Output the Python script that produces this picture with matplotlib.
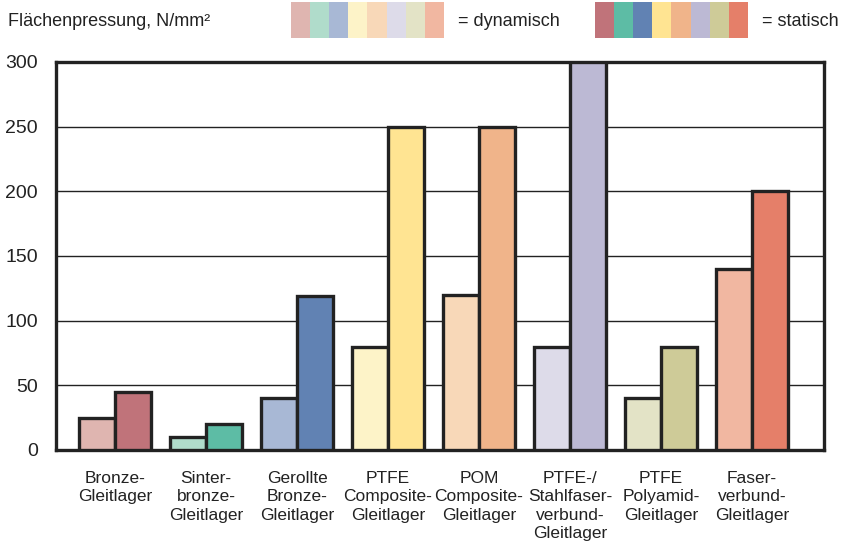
import numpy as np
import matplotlib
matplotlib.use("Agg")
import matplotlib.pyplot as plt
from matplotlib.patches import Rectangle

plt.rcParams['font.family'] = ['Liberation Sans', 'DejaVu Sans']

labels = [
    "Bronze-\nGleitlager",
    "Sinter-\nbronze-\nGleitlager",
    "Gerollte\nBronze-\nGleitlager",
    "PTFE\nComposite-\nGleitlager",
    "POM\nComposite-\nGleitlager",
    "PTFE-/\nStahlfaser-\nverbund-\nGleitlager",
    "PTFE\nPolyamid-\nGleitlager",
    "Faser-\nverbund-\nGleitlager",
]
dynamisch = [25, 10, 40, 80, 120, 80, 40, 140]
statisch = [45, 20, 119, 250, 250, 300, 80, 200]

dyn_colors = ["#DFB5B0", "#B0DCCB", "#A8B8D5", "#FDF3C8",
              "#F8D8B8", "#DDDBE9", "#E3E3C6", "#F1B7A1"]
stat_colors = ["#C0737A", "#5DBCA5", "#6182B3", "#FFE492",
               "#F0B48A", "#BCB9D4", "#CECB98", "#E57F69"]

ink = "#222222"

fig = plt.figure(figsize=(8.43, 5.42), dpi=100)
ax = fig.add_axes([56 / 843, 1 - 450 / 542, 768 / 843, 388 / 542])

x = np.arange(len(labels))
w = 0.395
ax.bar(x - w / 2, dynamisch, w, color=dyn_colors, edgecolor=ink,
       linewidth=2.4, zorder=3)
ax.bar(x + w / 2, statisch, w, color=stat_colors, edgecolor=ink,
       linewidth=2.4, zorder=3)

ax.set_xlim(-0.648, 7.79)
ax.set_ylim(0, 300)
ax.set_yticks([0, 50, 100, 150, 200, 250, 300])
ax.yaxis.grid(True, color=ink, linewidth=1.0, zorder=1)
ax.set_axisbelow(True)
ax.set_xticks(x)
ax.set_xticklabels(labels, fontsize=12.5, color=ink, linespacing=1.28,
                   va='top')
ax.tick_params(axis='x', length=0, pad=15)
ax.tick_params(axis='y', length=0, pad=13, labelsize=14, labelcolor=ink)
for s in ax.spines.values():
    s.set_linewidth(2.4)
    s.set_color(ink)

# header: unit label and colour key
fig.text(8 / 843, 1 - 21 / 542, "Flächenpressung, N/mm²", fontsize=13,
         color=ink, va='center', ha='left')

sw = 19.1
for i, c in enumerate(dyn_colors):
    fig.patches.append(Rectangle(((291 + i * sw) / 843, 1 - 38 / 542),
                                 sw / 843, 36 / 542, facecolor=c,
                                 edgecolor='none', transform=fig.transFigure))
for i, c in enumerate(stat_colors):
    fig.patches.append(Rectangle(((595 + i * sw) / 843, 1 - 38 / 542),
                                 sw / 843, 36 / 542, facecolor=c,
                                 edgecolor='none', transform=fig.transFigure))
fig.text(458 / 843, 1 - 21 / 542, "= dynamisch", fontsize=13, color=ink,
         va='center', ha='left')
fig.text(762 / 843, 1 - 21 / 542, "= statisch", fontsize=13, color=ink,
         va='center', ha='left')

fig.savefig("out.png", dpi=100)
